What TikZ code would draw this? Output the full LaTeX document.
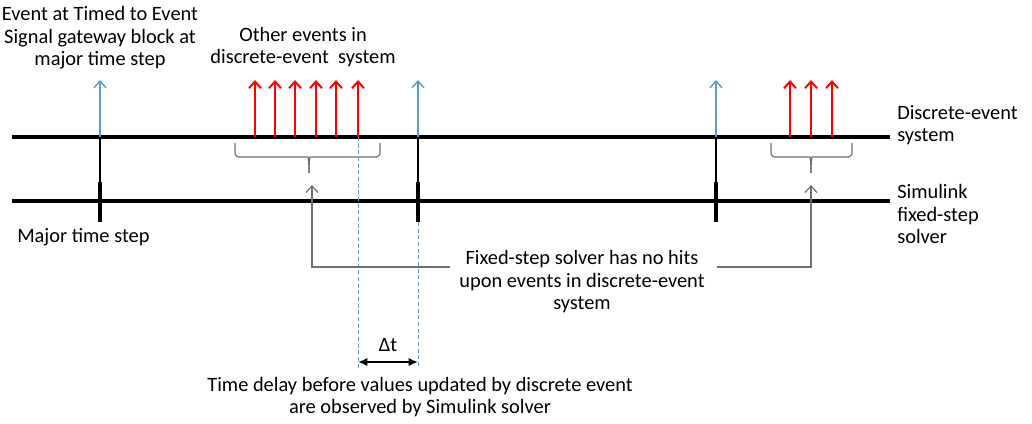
\documentclass[tikz,border=0pt]{standalone}
\usepackage{fontspec}
\setmainfont{Carlito}
\usepackage{tikz}
\usetikzlibrary{arrows.meta,positioning}
\definecolor{bluex}{HTML}{5B9BD5}
\definecolor{redx}{HTML}{FF0000}
\definecolor{grayx}{HTML}{707070}
\tikzset{
  axl/.style={line width=3pt,black},
  tk/.style={line width=3pt,black},
  thn/.style={line width=0.8pt,black},
  ev/.style={-{Straight Barb[length=5pt,width=9pt]},line width=1.1pt,bluex},
  re/.style={-{Straight Barb[length=5pt,width=9pt]},line width=1.5pt,redx},
  dsh/.style={bluex,line width=0.6pt,dash pattern=on 3pt off 2pt},
  brc/.style={grayx,line width=0.9pt,rounded corners=3pt},
  gar/.style={-{Straight Barb[length=5pt,width=9pt]},grayx,line width=0.9pt},
  dt/.style={{Latex[length=7pt,width=6pt]}-{Latex[length=7pt,width=6pt]},line width=1.2pt},
  lbl/.style={align=center,font=\fontsize{15.3}{16.9}\selectfont,inner sep=0pt}
}

\begin{document}
\begin{tikzpicture}[x=0.75pt,y=-0.75pt]
\useasboundingbox (0,0) rectangle (1032,424);
% the two time lines
\draw[axl] (12,137) -- (890,137);
\draw[axl] (12,201) -- (890,201);
\foreach \xx in {100,418,716}{
  \draw[thn] (\xx,137) -- (\xx,182);
  \draw[tk] (\xx,182) -- (\xx,222);
  \draw[ev] (\xx,137) -- (\xx,80);
}
\foreach \xx in {255,275,295,316,336,358,790,811,832}{\draw[re] (\xx,137) -- (\xx,80);}
% braces under the events
\foreach \a/\m/\b in {235/309/380,771/811/852}{
  \draw[brc] (\a,143) |- (\m-5,157) .. controls (\m-1,157) and (\m,160) .. (\m,173);
  \draw[brc] (\b,143) |- (\m+5,157) .. controls (\m+1,157) and (\m,160) .. (\m,173);
}
% delay
\draw[dsh] (358,137) -- (358,368);
\draw[dsh] (418,222) -- (418,368);
\draw[dt] (358,362) -- (418,362);
% labels
\node[lbl] (evt) at (100,38) {Event at Timed to Event\\Signal gateway block at\\major time step};
\node[lbl] (oth) at (303,47) {Other events in\\discrete-event\ \ system};
\node[lbl,anchor=west] (maj) at (17,237) {Major time step};
\node[lbl,anchor=west,align=left] (des) at (897,125) {Discrete-event\\system};
\node[lbl,anchor=west,align=left] (sim) at (897,214) {Simulink\\fixed-step\\solver};
\node[lbl] (fix) at (582,282) {Fixed-step solver has no hits\\upon events in discrete-event\\system};
\node[lbl] (dlt) at (388,345) {Δt};
\node[lbl] (dly) at (420,397) {Time delay before values updated by discrete event\\are observed by Simulink solver};
% pointers from the note to the braces
\coordinate (b1) at (312,185);
\coordinate (b2) at (811,185);
\coordinate (g1) at (450,267);
\coordinate (g2) at (717,267);
\draw[gar] (g1) -| (b1);
\draw[gar] (g2) -| (b2);
\end{tikzpicture}
\end{document}
